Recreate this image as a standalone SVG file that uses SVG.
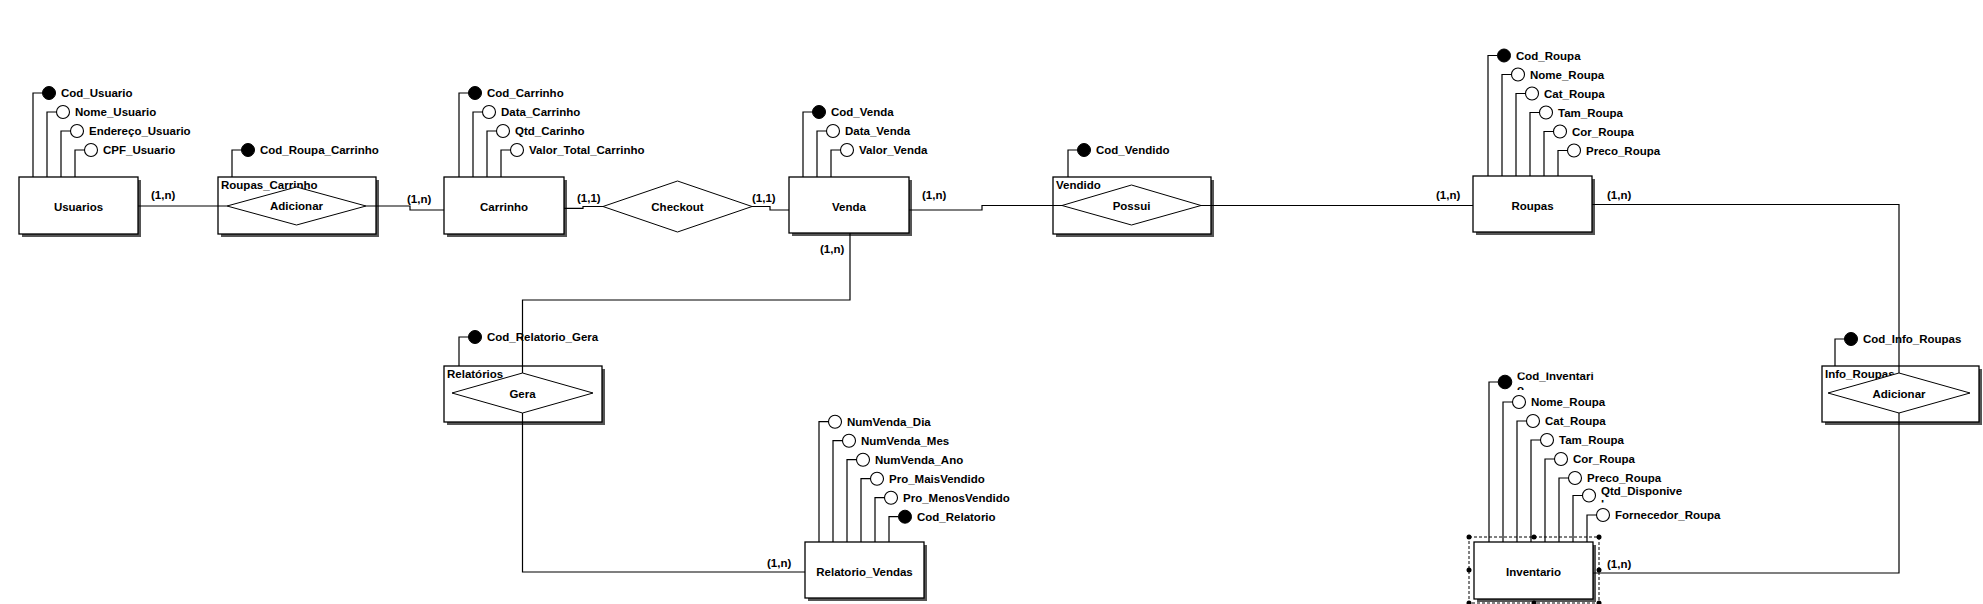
<svg xmlns="http://www.w3.org/2000/svg" width="1983" height="604" viewBox="0 0 1983 604">
<style>
text{font-family:"Liberation Sans",Arial,sans-serif;font-size:11.5px;font-weight:bold;fill:#000}
.c{text-anchor:middle}
.box{fill:#fff;stroke:#000;stroke-width:1.3}
.sh{fill:#555}
.dia{fill:#fff;stroke:#000;stroke-width:1}
.ln{fill:none;stroke:#000;stroke-width:1.2}
.pk{fill:#000;stroke:#000;stroke-width:1}
.at{fill:#fff;stroke:#000;stroke-width:1.1}
.sel{fill:none;stroke:#000;stroke-width:1;stroke-dasharray:3,2}
.hd{fill:#000}
</style>
<defs>
<clipPath id="clipInv"><rect x="1510" y="372.5" width="110" height="17.5"/></clipPath>
<clipPath id="clipQtd"><rect x="1595" y="486.7" width="110" height="15.8"/></clipPath>
</defs>

<g id="usuarios">
<rect class="sh" x="22" y="180" width="119" height="57"/>
<rect class="box" x="19" y="177" width="119" height="57"/>
<text class="c" x="78.5" y="211">Usuarios</text>
<path class="ln" d="M33,177V93H42.5"/><circle class="pk" cx="49" cy="93" r="6.5"/><text x="61" y="97">Cod_Usuario</text>
<path class="ln" d="M47,177V112H56.5"/><circle class="at" cx="63" cy="112" r="6.5"/><text x="75" y="116">Nome_Usuario</text>
<path class="ln" d="M61,177V131H70.5"/><circle class="at" cx="77" cy="131" r="6.5"/><text x="89" y="135">Endereço_Usuario</text>
<path class="ln" d="M75,177V150H84.5"/><circle class="at" cx="91" cy="150" r="6.5"/><text x="103" y="154">CPF_Usuario</text>
</g>

<g id="roupas_carrinho">
<rect class="sh" x="221" y="180" width="158" height="57"/>
<rect class="box" x="218" y="177" width="158" height="57"/>
<text x="221" y="189">Roupas_Carrinho</text>
<polygon class="dia" points="227,206 296.5,187 366,206 296.5,225"/>
<text class="c" x="296.5" y="210">Adicionar</text>
<path class="ln" d="M232,177V150H241.5"/><circle class="pk" cx="248" cy="150" r="6.5"/><text x="260" y="154">Cod_Roupa_Carrinho</text>
</g>

<g id="carrinho">
<rect class="sh" x="447" y="180" width="120" height="57"/>
<rect class="box" x="444" y="177" width="120" height="57"/>
<text class="c" x="504" y="211">Carrinho</text>
<path class="ln" d="M459,177V93H468.5"/><circle class="pk" cx="475" cy="93" r="6.5"/><text x="487" y="97">Cod_Carrinho</text>
<path class="ln" d="M473,177V112H482.5"/><circle class="at" cx="489" cy="112" r="6.5"/><text x="501" y="116">Data_Carrinho</text>
<path class="ln" d="M487,177V131H496.5"/><circle class="at" cx="503" cy="131" r="6.5"/><text x="515" y="135">Qtd_Carinho</text>
<path class="ln" d="M501,177V150H510.5"/><circle class="at" cx="517" cy="150" r="6.5"/><text x="529" y="154">Valor_Total_Carrinho</text>
</g>

<g id="checkout">
<polygon class="dia" points="603,206.5 677.5,181 752,206.5 677.5,232"/>
<text class="c" x="677.5" y="211">Checkout</text>
</g>

<g id="venda">
<rect class="sh" x="792" y="180" width="120" height="56"/>
<rect class="box" x="789" y="177" width="120" height="56"/>
<text class="c" x="849" y="211">Venda</text>
<path class="ln" d="M803,177V112H812.5"/><circle class="pk" cx="819" cy="112" r="6.5"/><text x="831" y="116">Cod_Venda</text>
<path class="ln" d="M817,177V131H826.5"/><circle class="at" cx="833" cy="131" r="6.5"/><text x="845" y="135">Data_Venda</text>
<path class="ln" d="M831,177V150H840.5"/><circle class="at" cx="847" cy="150" r="6.5"/><text x="859" y="154">Valor_Venda</text>
</g>

<g id="vendido">
<rect class="sh" x="1056" y="180" width="158" height="57"/>
<rect class="box" x="1053" y="177" width="158" height="57"/>
<text x="1056" y="189">Vendido</text>
<polygon class="dia" points="1062,205.5 1131.5,185 1201,205.5 1131.5,225"/>
<text class="c" x="1131.5" y="210">Possui</text>
<path class="ln" d="M1068,177V150H1077.5"/><circle class="pk" cx="1084" cy="150" r="6.5"/><text x="1096" y="154">Cod_Vendido</text>
</g>

<g id="roupas">
<rect class="sh" x="1476" y="179" width="119" height="56"/>
<rect class="box" x="1473" y="176" width="119" height="56"/>
<text class="c" x="1532.5" y="210">Roupas</text>
<path class="ln" d="M1488,176V55.5H1497.5"/><circle class="pk" cx="1504" cy="55.5" r="6.5"/><text x="1516" y="59.5">Cod_Roupa</text>
<path class="ln" d="M1502,176V74.5H1511.5"/><circle class="at" cx="1518" cy="74.5" r="6.5"/><text x="1530" y="78.5">Nome_Roupa</text>
<path class="ln" d="M1516,176V93.5H1525.5"/><circle class="at" cx="1532" cy="93.5" r="6.5"/><text x="1544" y="97.5">Cat_Roupa</text>
<path class="ln" d="M1530,176V112.5H1539.5"/><circle class="at" cx="1546" cy="112.5" r="6.5"/><text x="1558" y="116.5">Tam_Roupa</text>
<path class="ln" d="M1544,176V131.5H1553.5"/><circle class="at" cx="1560" cy="131.5" r="6.5"/><text x="1572" y="135.5">Cor_Roupa</text>
<path class="ln" d="M1558,176V150.5H1567.5"/><circle class="at" cx="1574" cy="150.5" r="6.5"/><text x="1586" y="154.5">Preco_Roupa</text>
</g>

<g id="relatorios">
<rect class="sh" x="447" y="369" width="158" height="56"/>
<rect class="box" x="444" y="366" width="158" height="56"/>
<text x="447" y="378">Relatórios</text>
<polygon class="dia" points="452,393 522.5,373 593,393 522.5,413"/>
<text class="c" x="522.5" y="398">Gera</text>
<path class="ln" d="M459,366V337H468.5"/><circle class="pk" cx="475" cy="337" r="6.5"/><text x="487" y="341">Cod_Relatorio_Gera</text>
</g>

<g id="relatorio_vendas">
<rect class="sh" x="808" y="545" width="119" height="56"/>
<rect class="box" x="805" y="542" width="119" height="56"/>
<text class="c" x="864.5" y="576">Relatorio_Vendas</text>
<path class="ln" d="M819,542V421.7H828.5"/><circle class="at" cx="835" cy="421.7" r="6.5"/><text x="847" y="425.7">NumVenda_Dia</text>
<path class="ln" d="M833,542V440.7H842.5"/><circle class="at" cx="849" cy="440.7" r="6.5"/><text x="861" y="444.7">NumVenda_Mes</text>
<path class="ln" d="M847,542V459.7H856.5"/><circle class="at" cx="863" cy="459.7" r="6.5"/><text x="875" y="463.7">NumVenda_Ano</text>
<path class="ln" d="M861,542V478.7H870.5"/><circle class="at" cx="877" cy="478.7" r="6.5"/><text x="889" y="482.7">Pro_MaisVendido</text>
<path class="ln" d="M875,542V497.7H884.5"/><circle class="at" cx="891" cy="497.7" r="6.5"/><text x="903" y="501.7">Pro_MenosVendido</text>
<path class="ln" d="M889,542V516.7H898.5"/><circle class="pk" cx="905" cy="516.7" r="6.5"/><text x="917" y="520.7">Cod_Relatorio</text>
</g>

<g id="info_roupas">
<rect class="sh" x="1825" y="369" width="157" height="56"/>
<rect class="box" x="1822" y="366" width="157" height="56"/>
<text x="1825" y="378">Info_Roupas</text>
<polygon class="dia" points="1828,393 1899,373 1970,393 1899,413"/>
<text class="c" x="1899" y="398">Adicionar</text>
<path class="ln" d="M1835,366V339H1844.5"/><circle class="pk" cx="1851" cy="339" r="6.5"/><text x="1863" y="343">Cod_Info_Roupas</text>
</g>

<g id="inventario">
<rect class="sh" x="1477" y="545" width="119" height="57"/>
<rect class="box" x="1474" y="542" width="119" height="57"/>
<text class="c" x="1533.5" y="576">Inventario</text>
<path class="ln" d="M1489,542V382H1498.5"/><circle class="pk" cx="1505" cy="382" r="6.8"/>
<g clip-path="url(#clipInv)"><text x="1517" y="379.5">Cod_Inventari</text><text x="1517" y="393">o</text></g>
<path class="ln" d="M1503,542V402H1512.5"/><circle class="at" cx="1519" cy="402" r="6.5"/><text x="1531" y="406">Nome_Roupa</text>
<path class="ln" d="M1517,542V421H1526.5"/><circle class="at" cx="1533" cy="421" r="6.5"/><text x="1545" y="425">Cat_Roupa</text>
<path class="ln" d="M1531,542V440H1540.5"/><circle class="at" cx="1547" cy="440" r="6.5"/><text x="1559" y="444">Tam_Roupa</text>
<path class="ln" d="M1545,542V459H1554.5"/><circle class="at" cx="1561" cy="459" r="6.5"/><text x="1573" y="463">Cor_Roupa</text>
<path class="ln" d="M1559,542V478H1568.5"/><circle class="at" cx="1575" cy="478" r="6.5"/><text x="1587" y="482">Preco_Roupa</text>
<path class="ln" d="M1573,542V495.5H1582.5"/><circle class="at" cx="1589" cy="495.5" r="6.5"/>
<g clip-path="url(#clipQtd)"><text x="1601" y="494.5">Qtd_Disponive</text><text x="1601" y="508">l</text></g>
<path class="ln" d="M1587,542V515H1596.5"/><circle class="at" cx="1603" cy="515" r="6.5"/><text x="1615" y="519">Fornecedor_Roupa</text>
<rect class="sel" x="1469" y="537" width="130" height="66"/>
<circle class="hd" cx="1469" cy="537" r="2.5"/><circle class="hd" cx="1534" cy="537" r="2.5"/><circle class="hd" cx="1599" cy="537" r="2.5"/>
<circle class="hd" cx="1469" cy="570" r="2.5"/><circle class="hd" cx="1599" cy="570" r="2.5"/>
<circle class="hd" cx="1469" cy="603" r="2.5"/><circle class="hd" cx="1534" cy="603" r="2.5"/><circle class="hd" cx="1599" cy="603" r="2.5"/>
</g>

<g id="connectors">
<path class="ln" d="M138,206H227"/>
<path class="ln" d="M366,206H410V210H444"/>
<path class="ln" d="M564,208.3H583V206.5H603"/>
<path class="ln" d="M752,206.5H770V210H789"/>
<path class="ln" d="M909,210H982V205.5H1062"/>
<path class="ln" d="M1201,205.5H1473"/>
<path class="ln" d="M1592,204.5H1899V373"/>
<path class="ln" d="M1899,413V573H1593"/>
<path class="ln" d="M850,233V300H522.5V373"/>
<path class="ln" d="M522.5,413V572H805"/>
<text x="151" y="199">(1,n)</text>
<text x="407" y="203">(1,n)</text>
<text x="577" y="202">(1,1)</text>
<text x="752" y="202">(1,1)</text>
<text x="922" y="199">(1,n)</text>
<text x="1436" y="199">(1,n)</text>
<text x="1607" y="199">(1,n)</text>
<text x="820" y="253">(1,n)</text>
<text x="767" y="567">(1,n)</text>
<text x="1607" y="568">(1,n)</text>
</g>
</svg>
